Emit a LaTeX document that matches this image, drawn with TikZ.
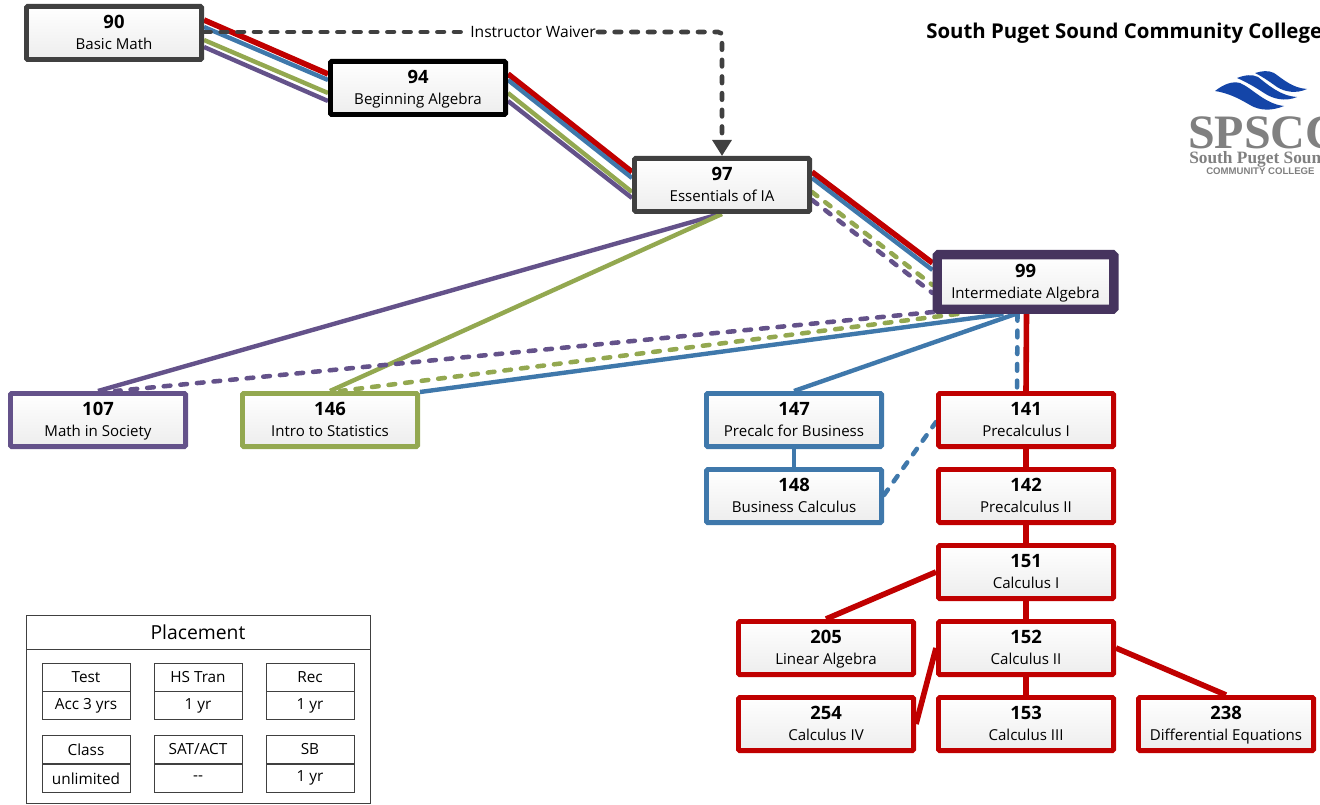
\documentclass[tikz,border=0pt]{standalone}
\usepackage{fontspec}
\setmainfont{Open Sans}
\newfontfamily\logoserif{Liberation Serif}
\newfontfamily\logosans{Liberation Sans}
\usetikzlibrary{calc,arrows.meta}
\definecolor{cred}{HTML}{C00000}
\definecolor{cblue}{HTML}{3F78AB}
\definecolor{cgreen}{HTML}{93A850}
\definecolor{cpurple}{HTML}{64528A}
\definecolor{cdark}{HTML}{404040}
\definecolor{cdeep}{HTML}{46345E}
\definecolor{clogo}{HTML}{1445A8}
\definecolor{cgray}{HTML}{808080}
\newcommand{\course}[2]{\rule{0pt}{12.1pt}{\fontsize{13.8}{14}\selectfont\bfseries #1}\\[3.85pt]{\fontsize{11.3}{12}\selectfont #2\vphantom{y}}}
\tikzset{
  x=0.75pt,y=-0.75pt,
  course/.style={draw=#1,line width=3.6pt,rounded corners=1pt,top color=white,bottom color=black!7,
    minimum width=131.4pt,minimum height=39.9pt,inner sep=0pt,align=center,text=black},
  wide/.style={draw=cdeep,line width=7pt,rounded corners=1pt,top color=white,bottom color=black!7,
    minimum width=132.5pt,minimum height=41pt,inner sep=0pt,align=center,text=black},
  lnk/.style={draw=#1,line width=3.3pt},
  red link/.style={draw=cred,line width=4.2pt},
  dlnk/.style={draw=#1,line width=3.4pt,dash pattern=on 5pt off 7.5pt,line cap=round},
  plain/.style={draw=cdark,line width=0.6pt,minimum width=66pt,minimum height=21pt,inner sep=0pt,font=\fontsize{11.5}{12}\selectfont},
}
\begin{document}
\begin{tikzpicture}
\useasboundingbox (0,0) rectangle (1320,805);
\clip (0,0) rectangle (1320,805);
\fill[white] (0,0) rectangle (1320,805);
\pgfdeclarelayer{front}\pgfsetlayers{main,front}
\begin{pgfonlayer}{front}
\node[course=cdark] (n90) at (114,33) {\course{90}{Basic Math}};
\node[course=black] (n94) at (418,88) {\course{94}{Beginning Algebra}};
\node[course=cdark] (n97) at (722,185) {\course{97}{Essentials of IA}};
\node[wide] (n99) at (1025.5,282) {\course{99}{Intermediate Algebra}};
\node[course=cpurple] (n107) at (98,420) {\course{107}{Math in Society}};
\node[course=cgreen] (n146) at (330,420) {\course{146}{Intro to Statistics}};
\node[course=cblue] (n147) at (794,420) {\course{147}{Precalc for Business}};
\node[course=cblue] (n148) at (794,496) {\course{148}{Business Calculus}};
\node[course=cred] (n141) at (1026,420) {\course{141}{Precalculus I}};
\node[course=cred] (n142) at (1026,496) {\course{142}{Precalculus II}};
\node[course=cred] (n151) at (1026,572) {\course{151}{Calculus I}};
\node[course=cred] (n205) at (826,648) {\course{205}{Linear Algebra}};
\node[course=cred] (n152) at (1026,648) {\course{152}{Calculus II}};
\node[course=cred] (n254) at (826,724) {\course{254}{Calculus IV}};
\node[course=cred] (n153) at (1026,724) {\course{153}{Calculus III}};
\node[course=cred] (n238) at (1226,724) {\course{238}{Differential Equations}};
\end{pgfonlayer}
% 90 -> 94
\draw[red link] ([shift={(0,-13)}]n90.east) -- ([shift={(0,-14)}]n94.west);
\draw[lnk=cblue] ([shift={(0,-6)}]n90.east) -- ([shift={(0,-8)}]n94.west);
\draw[lnk=cgreen] ([shift={(0,7)}]n90.east) -- ([shift={(0,5)}]n94.west);
\draw[lnk=cpurple] ([shift={(0,14)}]n90.east) -- ([shift={(0,13)}]n94.west);
% 94 -> 97
\draw[red link] ([shift={(0,-14)}]n94.east) -- ([shift={(0,-13)}]n97.west);
\draw[lnk=cblue] ([shift={(0,-8)}]n94.east) -- ([shift={(0,-7)}]n97.west);
\draw[lnk=cgreen] ([shift={(0,5)}]n94.east) -- ([shift={(0,7)}]n97.west);
\draw[lnk=cpurple] ([shift={(0,13)}]n94.east) -- ([shift={(0,13)}]n97.west);
% 97 -> 99
\draw[red link] ([shift={(0,-13)}]n97.east) -- ([shift={(0,-19)}]n99.west);
\draw[lnk=cblue] ([shift={(0,-7)}]n97.east) -- ([shift={(0,-12)}]n99.west);
\draw[dlnk=cgreen] ([shift={(0,7)}]n97.east) -- ([shift={(0,3)}]n99.west);
\draw[dlnk=cpurple] ([shift={(0,15)}]n97.east) -- ([shift={(0,11)}]n99.west);
% 97 -> 107, 146
\draw[lnk=cpurple] ([shift={(-2,0)}]n97.south) -- (n107.north);
\draw[lnk=cgreen] (n97.south) -- (n146.north);
% 99 -> 107, 146, 147, 141
\draw[dlnk=cpurple] ([shift={(-92,30)}]n99.center) -- ([shift={(17,0)}]n107.north);
\draw[dlnk=cgreen] ([shift={(-68,32)}]n99.center) -- ([shift={(10,0)}]n146.north);
\draw[lnk=cblue] ([shift={(-22,32)}]n99.center) -- ([shift={(0,-28)}]n146.east);
\draw[lnk=cblue] ([shift={(-10,32)}]n99.center) -- (n147.north);
\draw[dlnk=cblue] ([shift={(-8,32)}]n99.center) -- ([shift={(-9,0)}]n141.north);
\draw[red link] ([shift={(1,32)}]n99.center) -- (n141.north);
% business
\draw[lnk=cblue] (n147.south) -- (n148.north);
\draw[dlnk=cblue] ([shift={(0,-1)}]n148.east) -- ([shift={(0,2)}]n141.west);
% calculus chain
\draw[red link] (n141.south) -- (n142.north);
\draw[red link] (n142.south) -- (n151.north);
\draw[red link] (n151.south) -- (n152.north);
\draw[red link] (n152.south) -- (n153.north);
\draw[red link] (n151.west) -- (n205.north);
\draw[red link] (n152.west) -- (n254.east);
\draw[red link] (n152.east) -- (n238.north);
% waiver
\node[inner sep=1.5pt,fill=white,font=\fontsize{11.7}{12}\selectfont] (waiver) at (533,32) {Instructor Waiver};
\draw[draw=cdark,line width=3.4pt,dash pattern=on 5pt off 7.5pt,line cap=round] ([shift={(0,-1)}]n90.east) -- (waiver.west);
\draw[draw=cdark,line width=3.4pt,dash pattern=on 5pt off 7.5pt,line cap=round,rounded corners=3pt,-{Triangle[length=12pt,width=14pt,fill=cdark]}] (waiver.east) -| (n97.north);
% title and logo
\node[anchor=base west,inner sep=0pt,font=\fontsize{15.3}{17}\selectfont\bfseries] (title) at (926,39) {South Puget Sound Community College};
\fill[clogo] (1255,73) .. controls (1262,71) and (1268,70) .. (1274,73) .. controls (1283,79) and (1292,88) .. (1307,89) .. controls (1296,94) and (1285,92) .. (1277,87) .. controls (1270,82) and (1263,77) .. (1255,73) -- cycle;
\fill[clogo] (1237,78) .. controls (1245,75) and (1252,74) .. (1258,77) .. controls (1267,84) and (1280,96) .. (1297,97) .. controls (1285,102) and (1273,99) .. (1264,93) .. controls (1255,87) and (1246,82) .. (1237,78) -- cycle;
\fill[clogo] (1215,91) .. controls (1224,84) and (1232,81) .. (1240,83) .. controls (1252,88) and (1265,104) .. (1284,106) .. controls (1272,111) and (1260,111) .. (1250,105) .. controls (1238,98) and (1228,93) .. (1215,91) -- cycle;
\node[anchor=base west,inner sep=0pt,text=cgray,font=\logoserif\bfseries\fontsize{36}{36}\selectfont] (spscc) at (1188,149) {SPSCC};
\node[anchor=base west,inner sep=0pt,text=cgray,font=\logoserif\bfseries\fontsize{13}{13}\selectfont] (spsname) at (1189,164) {South Puget Sound};
\node[anchor=base west,inner sep=0pt,text=cgray,font=\logosans\bfseries\fontsize{7.2}{7}\selectfont] (spscomm) at (1206,175) {COMMUNITY COLLEGE};
% placement
\node[draw=cdark,line width=0.6pt,minimum width=258pt,minimum height=141.5pt,inner sep=0pt] (panel) at (198,709.5) {};
\node[draw=cdark,line width=0.6pt,minimum width=258pt,minimum height=25.5pt,inner sep=0pt,font=\fontsize{14.5}{15}\selectfont] (phead) at (198,632) {Placement};
\foreach \nm/\cx/\cy/\a/\b in {t/86/677/Test/Acc 3 yrs,h/198/677/HS Tran/1 yr,r/310/677/Rec/1 yr,c/86/749.5/Class/unlimited,s/198/749.5/SAT\slash ACT/-{}-,b/310/749.5/SB/1 yr}{
  \node[plain] (\nm a) at (\cx,\cy) {\a};
  \node[plain,anchor=north] (\nm b) at (\nm a.south) {\b};
}
\end{tikzpicture}
\end{document}
